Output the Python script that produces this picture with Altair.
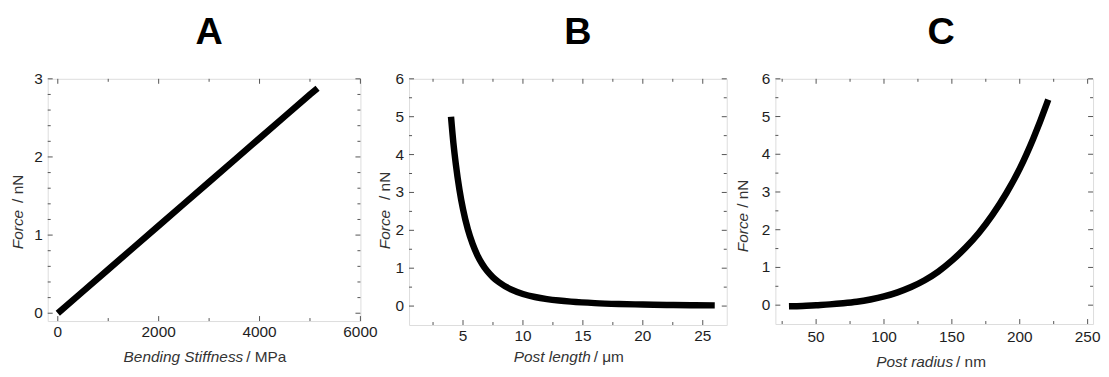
import altair as alt
import pandas as pd

# ---------------- data ----------------
# Panel A: Force vs bending stiffness
a_stiffness = [0, 500, 1000, 1500, 2000, 2500, 3000, 3500, 4000, 4500, 5000, 5150]
a_force = [0.0, 0.28, 0.56, 0.84, 1.12, 1.40, 1.68, 1.96, 2.24, 2.52, 2.80, 2.88]

# Panel B: Force vs post length
b_length = [4.0, 4.2, 4.4, 4.7, 5.0, 5.4, 5.8, 6.2, 6.6, 7.0, 7.5, 8.0, 9.0, 10.0,
            11.0, 12.0, 13.0, 14.0, 16.0, 18.0, 20.0, 22.0, 24.0, 26.0]
b_force = [5.0, 4.3, 3.75, 3.08, 2.56, 2.03, 1.64, 1.34, 1.11, 0.93, 0.76, 0.63, 0.44, 0.32,
           0.24, 0.185, 0.146, 0.117, 0.078, 0.055, 0.04, 0.03, 0.023, 0.018]

# Panel C: Force vs post radius
c_radius = [30, 40, 50, 60, 70, 80, 90, 100, 110, 120, 130, 140, 150, 160, 170, 180,
            190, 200, 210, 220, 221]
c_force = [-0.03, -0.02, 0.0, 0.02, 0.05, 0.09, 0.15, 0.23, 0.34, 0.48, 0.66, 0.89, 1.18,
           1.52, 1.92, 2.40, 2.96, 3.62, 4.42, 5.35, 5.45]

# tick values (major ones are labelled)
a_xmajor = [0, 2000, 4000, 6000]
a_xminor = [1000, 3000, 5000]
a_ymajor = [0, 1, 2, 3]
a_yminor = [0.2, 0.4, 0.6, 0.8, 1.2, 1.4, 1.6, 1.8, 2.2, 2.4, 2.6, 2.8]
b_xmajor = [5, 10, 15, 20, 25]
b_xminor = [2.5, 7.5, 12.5, 17.5, 22.5]
b_ymajor = [0, 1, 2, 3, 4, 5, 6]
b_yminor = [0.5, 1.5, 2.5, 3.5, 4.5, 5.5]
c_xmajor = [50, 100, 150, 200, 250]
c_xminor = [25, 75, 125, 175, 225]
c_ymajor = [0, 1, 2, 3, 4, 5, 6]
c_yminor = [0.5, 1.5, 2.5, 3.5, 4.5, 5.5]

# texts
letters = ["A", "B", "C"]
x_titles_italic = ["Bending Stiffness", "Post length", "Post radius"]
x_titles_regular = ["/ MPa", "/ \u03bcm", "/ nm"]
y_title_italic = "Force"
y_title_regular = "/ nN"

FONT = "Liberation Sans"
TITLE_FONT = "Liberation Sans"
FRAME = "#555555"
LABEL = "#1e1e1e"
TEXT = "#333333"


def tick_rules(vals, channel, scale, length, side, w, h):
    df = pd.DataFrame({"v": vals})
    base = alt.Chart(df).mark_rule(color=FRAME, strokeWidth=1)
    if channel == "x":
        enc = alt.X("v:Q", scale=scale, axis=None)
        if side == "bottom":
            return base.encode(x=enc, y=alt.value(h), y2=alt.value(h - length))
        return base.encode(x=enc, y=alt.value(0), y2=alt.value(length))
    enc = alt.Y("v:Q", scale=scale, axis=None)
    if side == "left":
        return base.encode(y=enc, x=alt.value(0), x2=alt.value(length))
    return base.encode(y=enc, x=alt.value(w), x2=alt.value(w - length))


def tick_labels(vals, channel, scale, w, h, dy):
    df = pd.DataFrame({"v": vals, "lab": [str(v) for v in vals]})
    if channel == "x":
        return alt.Chart(df).mark_text(
            fontSize=15.5, font=FONT, color=LABEL, baseline="middle", align="center"
        ).encode(x=alt.X("v:Q", scale=scale, axis=None), y=alt.value(h + dy), text="lab:N")
    return alt.Chart(df).mark_text(
        fontSize=15.5, font=FONT, color=LABEL, baseline="middle", align="right"
    ).encode(y=alt.Y("v:Q", scale=scale, axis=None), x=alt.value(-5), text="lab:N")


def text_mark(text, x, y, angle=0, italic=False, align="center", size=15.5,
              weight="normal", font=FONT, baseline="middle", color=TEXT):
    df = pd.DataFrame({"t": [text]})
    return alt.Chart(df).mark_text(
        align=align, baseline=baseline, angle=angle,
        fontStyle="italic" if italic else "normal", fontSize=size, font=font,
        fontWeight=weight, color=color,
    ).encode(x=alt.value(x), y=alt.value(y), text="t:N")


def panel(xs_vals, ys_vals, xdom, ydom, xmaj, xmin, ymaj, ymin, w, h, idx,
          letter_dx, xlab_dy, xt_it, xt_rg, xt_y, yt_x, yt_it, yt_rg, interp):
    xs = alt.Scale(domain=xdom, nice=False, zero=False)
    ys = alt.Scale(domain=ydom, nice=False, zero=False)
    df = pd.DataFrame({"x": xs_vals, "y": ys_vals})
    line = alt.Chart(df).mark_line(color="black", strokeWidth=6.5, interpolate=interp).encode(
        x=alt.X("x:Q", scale=xs, axis=None),
        y=alt.Y("y:Q", scale=ys, axis=None),
    )
    layers = [line]
    for vals, ln in ((xmaj, 5), (xmin, 3)):
        layers.append(tick_rules(vals, "x", xs, ln, "bottom", w, h))
        layers.append(tick_rules(vals, "x", xs, ln, "top", w, h))
    for vals, ln in ((ymaj, 5), (ymin, 3)):
        layers.append(tick_rules(vals, "y", ys, ln, "left", w, h))
        layers.append(tick_rules(vals, "y", ys, ln, "right", w, h))
    layers.append(tick_labels(xmaj, "x", xs, w, h, xlab_dy))
    layers.append(tick_labels(ymaj, "y", ys, w, h, 0))
    layers.append(text_mark(letters[idx], w / 2 + letter_dx, -35, size=38, weight="bold",
                            font=TITLE_FONT, baseline="alphabetic", color="black"))
    layers.append(text_mark(x_titles_italic[idx], xt_it, xt_y, italic=True, align="right"))
    layers.append(text_mark(x_titles_regular[idx], xt_rg, xt_y, align="left"))
    layers.append(text_mark(y_title_italic, yt_x, yt_it, angle=270, italic=True, align="right"))
    layers.append(text_mark(y_title_regular, yt_x, yt_rg, angle=270, align="left"))
    return alt.layer(*layers).properties(width=w, height=h)


pa = panel(a_stiffness, a_force, [-200, 6000], [-0.1, 3.0], a_xmajor, a_xminor,
           a_ymajor, a_yminor, 315, 244, 0, 5, 11, 197, 200, 280, -30, 132, 125, "linear")
pb = panel(b_length, b_force, [0.5, 27], [-0.5, 6], b_xmajor, b_xminor,
           b_ymajor, b_yminor, 320, 248, 1, 10, 11, 183, 186, 280, -24, 132, 122, "monotone")
pc = panel(c_radius, c_force, [20, 254], [-0.5, 6], c_xmajor, c_xminor,
           c_ymajor, c_yminor, 320, 247, 2, 7, 13, 179, 182, 285, -33, 135, 130, "monotone")

chart = alt.hconcat(pa, pb, pc, spacing=49, bounds="flush").properties(
    padding={"top": 4, "left": 2, "right": 0, "bottom": 0}
).configure_view(stroke=FRAME, strokeWidth=1).configure(background="white")

chart.save("out.html", embed_options={"renderer": "svg", "actions": False})
